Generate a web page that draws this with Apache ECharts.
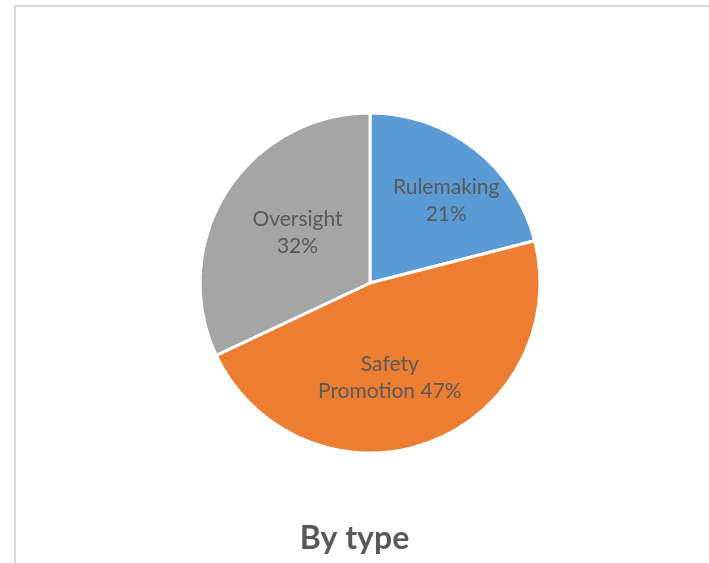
<!DOCTYPE html>
<html>
<head>
<meta charset="utf-8">
<script src="https://cdn.jsdelivr.net/npm/echarts@6/dist/echarts.min.js"></script>
<style>
  html, body { margin: 0; padding: 0; background: #fff; }
  #chart { width: 709px; height: 563px; }
</style>
</head>
<body>
<div id="chart"></div>
<script>
// Share of activities by type
const categories = ['Rulemaking', 'Safety\nPromotion', 'Oversight'];
const shares = [21, 47, 32];
const colors = ['#5B9BD5', '#ED7D31', '#A5A5A5'];
// label placement inside each slice: distance as a fraction of the radius,
// and a small turn (degrees, clockwise) away from the slice's mid angle
const labelDepth = [0.66, 0.57, 0.52];
const labelTurn = [5, 8, 2.5];

const chart = echarts.init(document.getElementById('chart'));
const CX = 370, CY = 283, R = 170;

const total = shares.reduce((a, b) => a + b, 0);
let acc = 0;
const midAngles = shares.map(v => { const m = (acc + v / 2) / total * 2 * Math.PI; acc += v; return m; });

chart.setOption({
  animation: false,
  title: {
    text: 'By type',
    left: 'center',
    top: 518,
    textStyle: { fontFamily: 'Lato', fontWeight: 'bold', fontSize: 32, color: '#595959' }
  },
  graphic: [{
    type: 'rect',
    shape: { x: 15, y: 6, width: 760, height: 640 },
    style: { fill: 'none', stroke: '#d9d9d9', lineWidth: 2 },
    silent: true
  }],
  series: [{
    type: 'pie',
    center: [CX, CY],
    radius: [0, R],
    startAngle: 90,
    clockwise: true,
    avoidLabelOverlap: false,
    itemStyle: { borderColor: '#fff', borderWidth: 3 },
    label: {
      show: true,
      position: 'inside',
      formatter: function (p) {
        return p.dataIndex === 1 ? 'Safety\nPromotion ' + p.value + '%' : p.name + '\n' + p.value + '%';
      },
      fontFamily: 'Lato',
      fontSize: 21,
      lineHeight: 27,
      color: '#595959'
    },
    labelLayout: function (params) {
      const i = params.dataIndex;
      const a = midAngles[i] + labelTurn[i] * Math.PI / 180, d = labelDepth[i] * R;
      return { x: CX + Math.sin(a) * d, y: CY - Math.cos(a) * d, align: 'center', verticalAlign: 'middle' };
    },
    data: categories.map((c, i) => ({ name: c, value: shares[i], itemStyle: { color: colors[i] } }))
  }]
});
</script>
</body>
</html>
